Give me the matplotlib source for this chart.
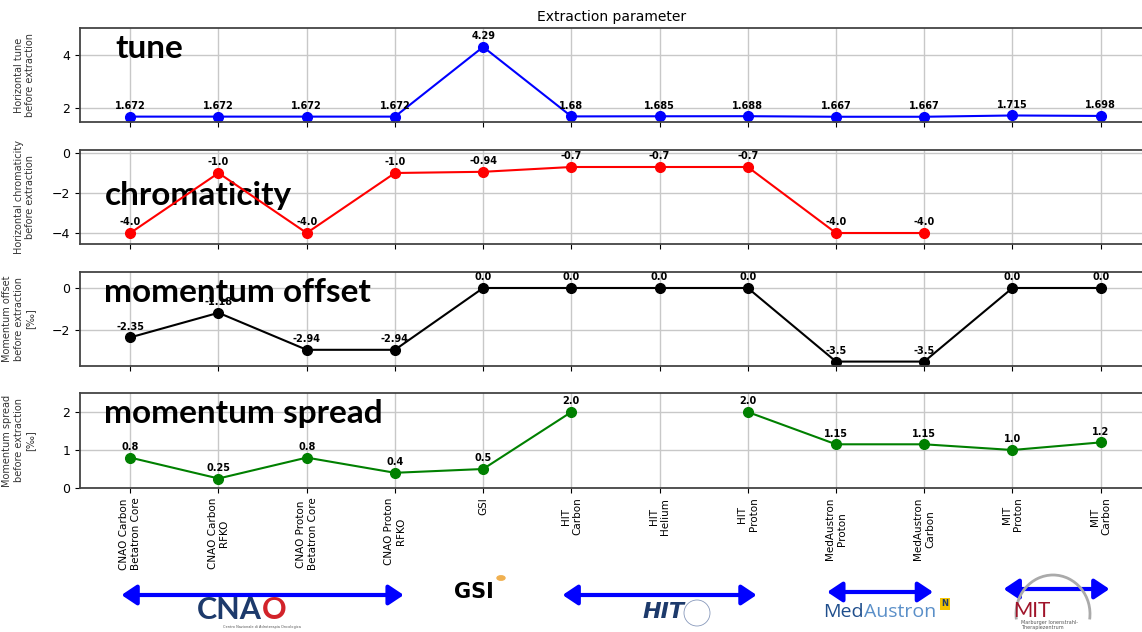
import numpy as np
import matplotlib
matplotlib.use("Agg")
import matplotlib.pyplot as plt
import matplotlib.transforms as mtransforms
from matplotlib.patches import Arc

# facilities / beams on the x axis
categories = ["CNAO Carbon\nBetatron Core", "CNAO Carbon\nRFKO", "CNAO Proton\nBetatron Core",
              "CNAO Proton\nRFKO", "GSI", "HIT\nCarbon", "HIT\nHelium", "HIT\nProton",
              "MedAustron\nProton", "MedAustron\nCarbon", "MIT\nProton", "MIT\nCarbon"]

# extraction parameters (nan = not available)
tune = [1.672, 1.672, 1.672, 1.672, 4.29, 1.68, 1.685, 1.688, 1.667, 1.667, 1.715, 1.698]
chromaticity = [-4.0, -1.0, -4.0, -1.0, -0.94, -0.7, -0.7, -0.7, -4.0, -4.0, np.nan, np.nan]
mom_offset = [-2.35, -1.18, -2.94, -2.94, 0.0, 0.0, 0.0, 0.0, -3.5, -3.5, 0.0, 0.0]
mom_spread = [0.8, 0.25, 0.8, 0.4, 0.5, 2.0, np.nan, 2.0, 1.15, 1.15, 1.0, 1.2]

series = [tune, chromaticity, mom_offset, mom_spread]
colors = ["blue", "red", "black", "green"]
ylabels = ["Horizontal tune\nbefore extraction",
           "Horizontal chromaticity\nbefore extraction",
           "Momentum offset\nbefore extraction\n[‰]",
           "Momentum spread\nbefore extraction\n[‰]"]
big_names = ["tune", "chromaticity", "momentum offset", "momentum spread"]
ylims = [(1.47, 5.0), (-4.55, 0.15), (-3.71, 0.76), (0, 2.5)]
yticks = [[2, 4], [-4, -2, 0], [-2, 0], [0, 1, 2]]

W, H = 1142, 632
fig = plt.figure(figsize=(W / 100, H / 100), dpi=100)

# axes boxes in pixels (left, top, right, bottom)
boxes = [(80, 28, 1143, 122), (80, 150, 1143, 244), (80, 272, 1143, 366), (80, 393, 1143, 488)]
x = np.arange(len(categories))
axes = []
for i, (l, t, r, b) in enumerate(boxes):
    ax = fig.add_axes([l / W, 1 - b / H, (r - l) / W, (b - t) / H])
    axes.append(ax)
    vals = series[i]
    ax.plot(x, vals, "-o", color=colors[i], markersize=7, linewidth=1.5)
    for xi, v in zip(x, vals):
        if np.isnan(v):
            continue
        ax.annotate(f"{v}", (xi, v), xytext=(0, 4), textcoords="offset points",
                    ha="center", va="bottom", fontsize=7, fontweight="bold")
    ax.set_xlim(-0.57, 11.48)
    ax.set_ylim(*ylims[i])
    ax.set_yticks(yticks[i])
    ax.set_xticks(x)
    ax.grid(True, color="#c8c8c8", linewidth=1)
    ax.set_axisbelow(True)
    ax.tick_params(axis="y", labelsize=9)
    ax.set_ylabel(ylabels[i], fontsize=7, color="#333333")
    ax.yaxis.set_label_coords(-0.042, 0.5)
    for s in ax.spines.values():
        s.set_color("#444444")
        s.set_linewidth(1.3)
    ax.text(0.033 if i == 0 else 0.023, 0.78 if i == 0 else (0.52 if i == 1 else 0.78),
            big_names[i], transform=ax.transAxes, fontsize=24, fontweight="bold",
            family="Lato", va="center", ha="left", zorder=1)
    if i < 3:
        ax.tick_params(axis="x", labelbottom=False)
    else:
        ax.set_xticklabels(categories, rotation=90, fontsize=7.5)

axes[0].set_title("Extraction parameter", fontsize=10, pad=5)

# facility arrows below the chart (x in data, y in figure)
ax = axes[3]
trans = mtransforms.blended_transform_factory(ax.transData, fig.transFigure)
groups = [(0, 3, 595), (5, 7, 595), (8, 9, 592), (10, 11, 589)]
for a, b, ypx in groups:
    ax.annotate("", xy=(b + 0.1, 1 - ypx / H), xytext=(a - 0.1, 1 - ypx / H),
                xycoords=trans, textcoords=trans, annotation_clip=False,
                arrowprops=dict(arrowstyle="<|-|>,head_length=0.9,head_width=0.6",
                                color="blue", lw=3, shrinkA=0, shrinkB=0))

# logo stand-ins
fig.text(262 / W, 1 - 610 / H, "CNA", color="#1d3a6b", fontsize=22, fontweight="bold",
         ha="right", va="center", family="Lato")
fig.text(262 / W, 1 - 610 / H, "O", color="#d2232a", fontsize=22, fontweight="bold",
         ha="left", va="center", family="Lato")
fig.text(262 / W, 1 - 627 / H, "Centro Nazionale di Adroterapia Oncologica", fontsize=2.5,
         ha="center", va="center", color="#555555")
fig.text(474 / W, 1 - 592 / H, "GSI", fontsize=15, fontweight="heavy", ha="center",
         va="center", family="DejaVu Sans", color="black")
fig.patches.append(plt.Circle((501 / W, 1 - 578 / H), 4 / W, transform=fig.transFigure,
                              color="#f0b050", zorder=5))
fig.text(664 / W, 1 - 612 / H, "HIT", fontsize=16, fontweight="bold", style="italic",
         ha="center", va="center", color="#1d3a6b")
fig.patches.append(Arc((697 / W, 1 - 613 / H), 26 / W, 26 / H, transform=fig.transFigure,
                       color="#8899bb", lw=0.6))
fig.text(864 / W, 1 - 612 / H, "Med", fontsize=14, ha="right", va="center",
         color="#1f4e8c", family="Open Sans")
fig.text(864 / W, 1 - 612 / H, "Austron", fontsize=14, ha="left", va="center",
         color="#5a8fc8", family="Open Sans")
fig.text(945 / W, 1 - 604 / H, "N", fontsize=6, fontweight="bold", ha="center", va="center",
         color="#1d3a6b", bbox=dict(boxstyle="square,pad=0.15", fc="#f5c400", ec="none"))
fig.patches.append(Arc((1053 / W, 1 - 614 / H), 74 / W, 78 / H, theta1=-15, theta2=195,
                       transform=fig.transFigure, color="#aaaaaa", lw=2))
fig.text(1032 / W, 1 - 611 / H, "MIT", fontsize=15, ha="center", va="center",
         color="#a0142a", family="Lato")
fig.text(1021 / W, 1 - 625 / H, "Marburger Ionenstrahl-\nTherapiezentrum", fontsize=3.5,
         ha="left", va="center", color="#555555")

fig.savefig("out.png", dpi=100)
